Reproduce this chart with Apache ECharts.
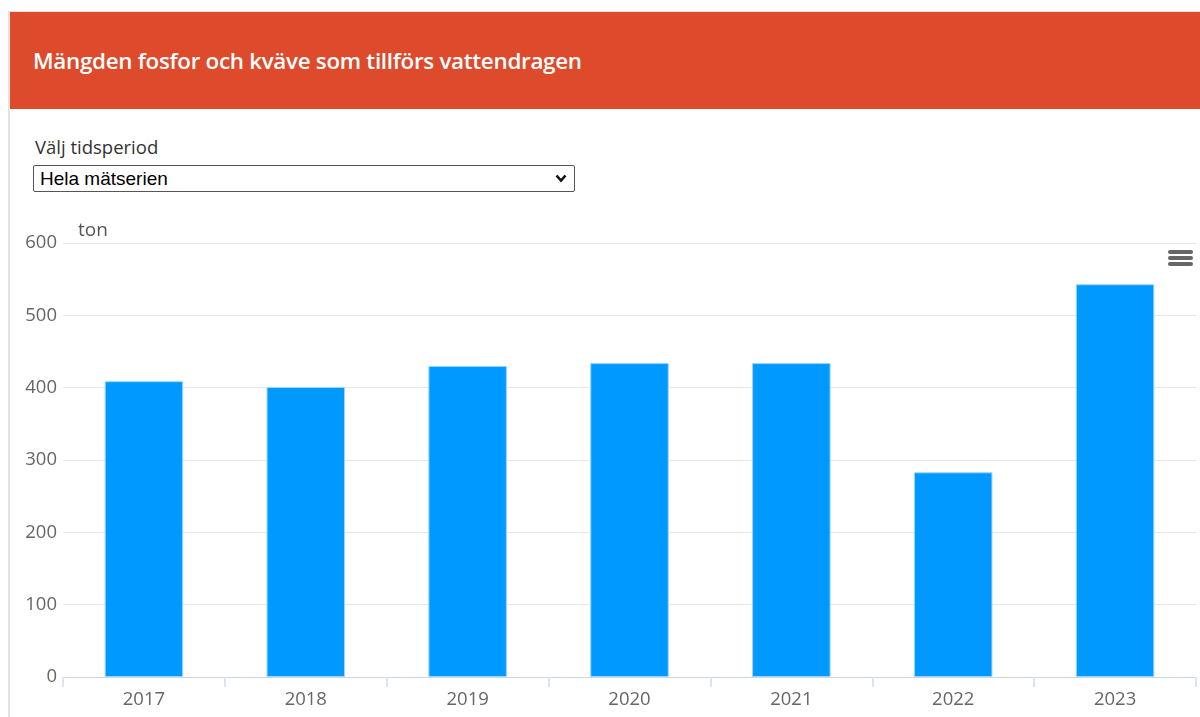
<!DOCTYPE html>
<html>
<head>
<meta charset="utf-8">
<script src="https://cdn.jsdelivr.net/npm/echarts@6/dist/echarts.min.js"></script>
<style>
  html, body { margin: 0; padding: 0; background: #fff; width: 1200px; height: 717px; overflow: hidden; }
  .box {
    position: absolute; left: 8px; top: 11px; width: 1192px; height: 706px;
    border-left: 2px solid #e2e2e2; border-top: 1px solid #e2e2e2;
  }
  .header {
    position: absolute; left: 0; top: 0; width: 1192px; height: 97px;
    background-color: #dd4a2c; color: #fff;
    font-family: "Open Sans", "Noto Sans", sans-serif; font-weight: 600; font-size: 22.4px;
    line-height: 97px; padding-left: 23px; box-sizing: border-box; letter-spacing: -0.3px;
  }
  .label {
    position: absolute; left: 25px; top: 122px;
    font-family: "Open Sans", "Noto Sans", sans-serif; font-size: 18.5px; color: #333;
  }
  .select {
    position: absolute; left: 23px; top: 153px; width: 542px; height: 27px; box-sizing: border-box;
    border: 1px solid #555; border-radius: 2px; background: #fff;
    font-family: "Liberation Sans", Arial, sans-serif; font-size: 19px; color: #000;
    line-height: 25px; padding-left: 6px;
  }
  .select svg { position: absolute; right: 7px; top: 8px; }
  #chart { position: absolute; left: 0; top: 200px; width: 1200px; height: 517px; }
</style>
</head>
<body>
  <div class="box">
    <div class="header">Mängden fosfor och kväve som tillförs vattendragen</div>
    <div class="label">Välj tidsperiod</div>
    <div class="select">Hela mätserien<svg width="12" height="9" viewBox="0 0 12 9"><path d="M1.5 1.5 L6 6.5 L10.5 1.5" stroke="#111" stroke-width="2.6" fill="none"/></svg></div>
  </div>
  <div id="chart"></div>

<script>
// år och mängd (ton)
var years = ['2017', '2018', '2019', '2020', '2021', '2022', '2023'];
var values = [409, 401, 430, 434, 434, 283, 543];
var yTicks = [0, 100, 200, 300, 400, 500, 600];

var myChart = echarts.init(document.getElementById('chart'));

var option = {
  animation: false,
  grid: { left: 63, right: 4, top: 43, bottom: 40 },
  xAxis: {
    type: 'category',
    data: years,
    axisLine: { lineStyle: { color: '#ccd6eb', width: 1 } },
    axisTick: { show: true, length: 10, lineStyle: { color: '#dde3f0', width: 2 } },
    axisLabel: { color: '#666', fontSize: 18.5, margin: 13, fontFamily: 'Open Sans' }
  },
  yAxis: {
    type: 'value',
    min: yTicks[0],
    max: yTicks[yTicks.length - 1],
    interval: 100,
    name: 'ton',
    nameGap: 3,
    nameTextStyle: { color: '#555', fontSize: 19, align: 'left', padding: [0, 0, 0, 15], fontFamily: 'Open Sans' },
    axisLabel: { color: '#666', fontSize: 18.5, margin: 6, fontFamily: 'Open Sans' },
    splitLine: { lineStyle: { color: '#e6e6e6' } }
  },
  series: [
    {
      name: 'Mängd',
      type: 'bar',
      data: values,
      barWidth: '48.5%',
      itemStyle: { color: '#0099ff', borderColor: '#99d6ff', borderWidth: 1 }
    }
  ],
  graphic: [
    {
      type: 'group', right: 7, top: 50,
      children: [
        { type: 'rect', shape: { x: 0, y: 0, width: 25, height: 4, r: 2 }, style: { fill: '#666' } },
        { type: 'rect', shape: { x: 0, y: 6, width: 25, height: 4, r: 2 }, style: { fill: '#666' } },
        { type: 'rect', shape: { x: 0, y: 12, width: 25, height: 4, r: 2 }, style: { fill: '#666' } }
      ]
    }
  ]
};

myChart.setOption(option);
</script>
</body>
</html>
